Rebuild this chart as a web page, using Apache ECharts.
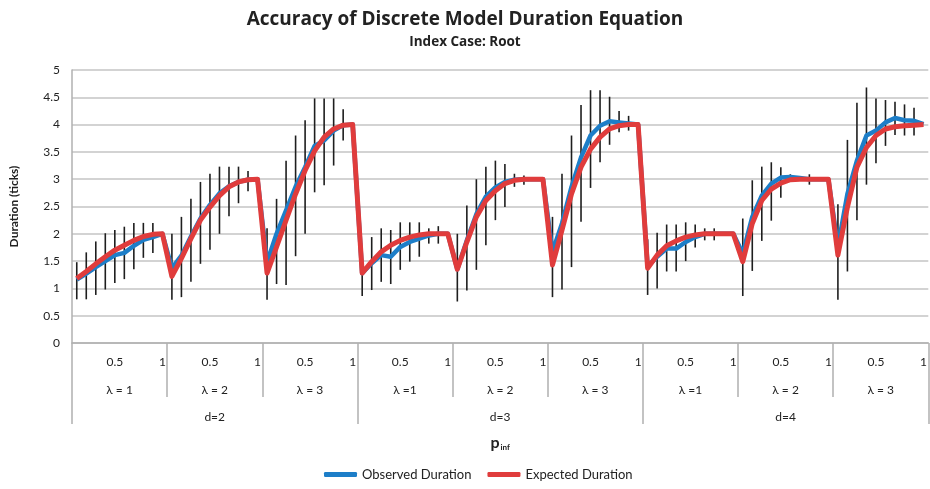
<!DOCTYPE html>
<html>
<head>
<meta charset="utf-8">
<script src="https://cdn.jsdelivr.net/npm/echarts@6/dist/echarts.min.js"></script>
<style>
  html, body { margin: 0; padding: 0; background: #fff; }
  #chart { width: 930px; height: 489px; }
</style>
</head>
<body>
<div id="chart"></div>
<script>
// p_inf ticks within each (d, lambda) block; only 0.5 and 1 are labelled
const pValues = ['0.1', '0.2', '0.3', '0.4', '0.5', '0.6', '0.7', '0.8', '0.9', '1'];
const pTickLabels = ['', '', '', '', '0.5', '', '', '', '', '1'];
const lambdaLabels = ['λ = 1', 'λ = 2', 'λ = 3', 'λ =1', 'λ = 2', 'λ = 3', 'λ =1', 'λ = 2', 'λ = 3'];
const dLabels = ['d=2', 'd=3', 'd=4'];

// Observed mean duration, one row per (d, lambda) block
const observed = [
  [1.16, 1.27, 1.39, 1.50, 1.61, 1.65, 1.78, 1.89, 1.94, 2.00],
  [1.37, 1.60, 1.95, 2.28, 2.53, 2.74, 2.87, 2.95, 2.99, 3.00],
  [1.48, 2.00, 2.43, 2.86, 3.22, 3.61, 3.71, 3.89, 3.99, 4.00],
  [1.28, 1.46, 1.61, 1.58, 1.76, 1.85, 1.91, 1.97, 2.00, 2.00],
  [1.35, 1.88, 2.36, 2.68, 2.85, 2.95, 2.99, 3.00, 3.00, 3.00],
  [1.67, 2.19, 2.86, 3.40, 3.80, 3.98, 4.06, 4.04, 4.02, 4.00],
  [1.40, 1.58, 1.73, 1.73, 1.85, 1.94, 2.00, 2.00, 2.00, 2.00],
  [1.64, 2.31, 2.70, 2.92, 3.03, 3.04, 3.02, 3.00, 3.00, 3.00],
  [1.76, 2.73, 3.34, 3.80, 3.89, 4.04, 4.12, 4.08, 4.07, 4.01]
];

// Expected duration from the discrete model
const expected = [
  [1.18, 1.31, 1.45, 1.58, 1.70, 1.79, 1.88, 1.95, 1.99, 2.00],
  [1.22, 1.55, 1.91, 2.25, 2.49, 2.70, 2.86, 2.95, 2.99, 3.00],
  [1.28, 1.76, 2.25, 2.73, 3.16, 3.52, 3.77, 3.92, 3.99, 4.00],
  [1.28, 1.49, 1.67, 1.79, 1.88, 1.94, 1.98, 2.00, 2.00, 2.00],
  [1.35, 1.85, 2.31, 2.61, 2.79, 2.92, 2.98, 3.00, 3.00, 3.00],
  [1.43, 2.07, 2.73, 3.22, 3.55, 3.77, 3.92, 3.98, 4.00, 4.00],
  [1.37, 1.61, 1.78, 1.87, 1.94, 1.98, 2.00, 2.00, 2.00, 2.00],
  [1.49, 2.19, 2.61, 2.82, 2.93, 2.99, 3.00, 3.00, 3.00, 3.00],
  [1.61, 2.49, 3.22, 3.58, 3.80, 3.92, 3.96, 3.98, 3.99, 4.00]
];

// Error bar extents (null = no spread)
const errLow = [
  [0.80, 0.80, 0.88, 0.98, 1.10, 1.17, 1.35, 1.56, 1.65, null],
  [0.79, 0.84, 1.12, 1.45, 1.71, 2.00, 2.32, 2.56, 2.78, null],
  [0.79, 1.08, 1.06, 1.59, 2.00, 2.76, 2.89, 3.25, 3.71, null],
  [0.86, 0.97, 1.12, 1.08, 1.34, 1.49, 1.58, 1.82, 1.82, null],
  [0.76, 0.96, 1.34, 1.79, 2.25, 2.49, 2.86, 2.90, null, null],
  [0.84, 0.98, 1.39, 2.22, 2.84, 3.31, 3.63, 3.86, 3.89, null],
  [0.88, 1.00, 1.31, 1.31, 1.50, 1.75, 1.88, 1.88, null, null],
  [0.86, 1.32, 1.87, 2.24, 2.66, 3.00, null, 2.90, null, null],
  [0.79, 1.31, 2.25, 2.90, 3.29, 3.61, 3.81, 3.80, 3.80, null]
];
const errHigh = [
  [1.48, 1.66, 1.86, 2.01, 2.07, 2.13, 2.20, 2.20, 2.20, null],
  [2.00, 2.31, 2.64, 2.95, 3.10, 3.23, 3.23, 3.23, 3.15, null],
  [2.10, 2.64, 3.34, 3.80, 4.08, 4.48, 4.48, 4.48, 4.28, null],
  [1.70, 1.94, 2.10, 2.07, 2.21, 2.21, 2.21, 2.10, 2.14, null],
  [2.00, 2.52, 3.00, 3.23, 3.34, 3.28, 3.10, 3.07, null, null],
  [2.31, 3.10, 3.80, 4.36, 4.63, 4.63, 4.51, 4.25, 4.16, null],
  [1.90, 2.02, 2.17, 2.17, 2.21, 2.17, 2.10, 2.10, null, null],
  [2.28, 2.98, 3.23, 3.31, 3.22, 3.09, null, 3.09, null, null],
  [2.54, 3.72, 4.40, 4.68, 4.48, 4.45, 4.42, 4.37, 4.31, null]
];

// Flatten the blocks onto one 90-slot category axis
const categories = [];
lambdaLabels.forEach((lam, g) => pValues.forEach(p => categories.push(g + '|' + p)));
const observedFlat = observed.flat();
const expectedFlat = expected.flat();
const errorBars = [];
errLow.forEach((row, g) => row.forEach((lo, i) => {
  const hi = errHigh[g][i];
  if (lo != null && hi != null) errorBars.push([g * 10 + i, lo, hi]);
}));

const FONT = 'Lato, "Open Sans", sans-serif';
const HEAD = '"Open Sans", Lato, sans-serif';
const TEXT = '#222';
const SEP = '#b0b0b0';

const chart = echarts.init(document.getElementById('chart'), null, { renderer: 'canvas' });
chart.setOption({
  animation: false,
  backgroundColor: '#fff',
  textStyle: { fontFamily: FONT },
  title: {
    text: 'Accuracy of Discrete Model Duration Equation',
    subtext: 'Index Case: Root',
    left: 'center',
    top: 5,
    itemGap: 6,
    textStyle: { fontFamily: HEAD, fontSize: 19, fontWeight: 'bold', color: TEXT },
    subtextStyle: { fontFamily: HEAD, fontSize: 13.5, fontWeight: 'bold', color: TEXT }
  },
  legend: {
    data: ['Observed Duration', 'Expected Duration'],
    bottom: 3,
    left: 319,
    icon: 'roundRect',
    itemWidth: 33,
    itemHeight: 5,
    itemGap: 16,
    textStyle: { fontFamily: FONT, fontSize: 13, color: TEXT }
  },
  grid: { left: 70, right: 0, top: 70, bottom: 146, containLabel: false },
  xAxis: [
    {
      type: 'category',
      position: 'bottom',
      data: categories,
      boundaryGap: true,
      axisLine: { show: true, lineStyle: { color: SEP, width: 1.5 } },
      axisTick: { show: false },
      axisLabel: {
        interval: 0,
        margin: 13,
        fontSize: 12,
        color: TEXT,
        fontFamily: FONT,
        formatter: (v, idx) => pTickLabels[idx % 10]
      },
      splitLine: { show: false }
    },
    {
      type: 'category',
      position: 'bottom',
      data: lambdaLabels,
      boundaryGap: true,
      axisLine: { show: false },
      axisTick: { show: true, interval: 0, length: 54, lineStyle: { color: SEP, width: 1.5 } },
      axisLabel: { interval: 0, margin: 41, fontSize: 12, color: TEXT, fontFamily: FONT },
      splitLine: { show: false }
    },
    {
      type: 'category',
      position: 'bottom',
      data: dLabels,
      boundaryGap: true,
      axisLine: { show: false },
      axisTick: { show: true, interval: 0, length: 81, lineStyle: { color: SEP, width: 1.5 } },
      axisLabel: { interval: 0, margin: 68, fontSize: 12, color: TEXT, fontFamily: FONT },
      splitLine: { show: false },
      name: '{p|p}{s|inf}',
      nameLocation: 'middle',
      nameGap: 92,
      nameTextStyle: {
        rich: {
          p: { fontFamily: FONT, fontSize: 16, fontWeight: 'bold', color: TEXT },
          s: { fontFamily: FONT, fontSize: 8, fontWeight: 'bold', color: TEXT, verticalAlign: 'bottom', padding: [7, 0, 0, 1] }
        }
      }
    }
  ],
  yAxis: {
    type: 'value',
    min: 0,
    max: 5,
    interval: 0.5,
    name: 'Duration (ticks)',
    nameLocation: 'middle',
    nameGap: 52,
    nameRotate: 90,
    nameTextStyle: { fontFamily: FONT, fontSize: 12, fontWeight: 'bold', color: TEXT },
    axisLine: { show: true, lineStyle: { color: SEP, width: 1.5 } },
    axisTick: { show: false },
    axisLabel: { fontSize: 12, color: TEXT, fontFamily: FONT, margin: 12 },
    splitLine: { show: true, lineStyle: { color: '#c4c4c4', width: 1.5 } }
  },
  series: [
    {
      name: 'Spread',
      type: 'custom',
      xAxisIndex: 0,
      yAxisIndex: 0,
      data: errorBars,
      encode: { x: 0, y: [1, 2] },
      z: 1,
      renderItem: (params, api) => {
        const i = api.value(0);
        const a = api.coord([i, api.value(1)]);
        const b = api.coord([i, api.value(2)]);
        return {
          type: 'line',
          shape: { x1: a[0], y1: a[1], x2: b[0], y2: b[1] },
          style: { stroke: '#1e1e1e', lineWidth: 1.6 }
        };
      }
    },
    {
      name: 'Observed Duration',
      type: 'line',
      xAxisIndex: 0,
      yAxisIndex: 0,
      data: observedFlat,
      showSymbol: false,
      symbol: 'none',
      z: 2,
      itemStyle: { color: '#1d7ec8' },
      lineStyle: { color: '#1d7ec8', width: 4.5, join: 'round' }
    },
    {
      name: 'Expected Duration',
      type: 'line',
      xAxisIndex: 0,
      yAxisIndex: 0,
      data: expectedFlat,
      showSymbol: false,
      symbol: 'none',
      z: 3,
      itemStyle: { color: '#e03c3c' },
      lineStyle: { color: '#e03c3c', width: 5, join: 'round' }
    }
  ]
});
</script>
</body>
</html>
